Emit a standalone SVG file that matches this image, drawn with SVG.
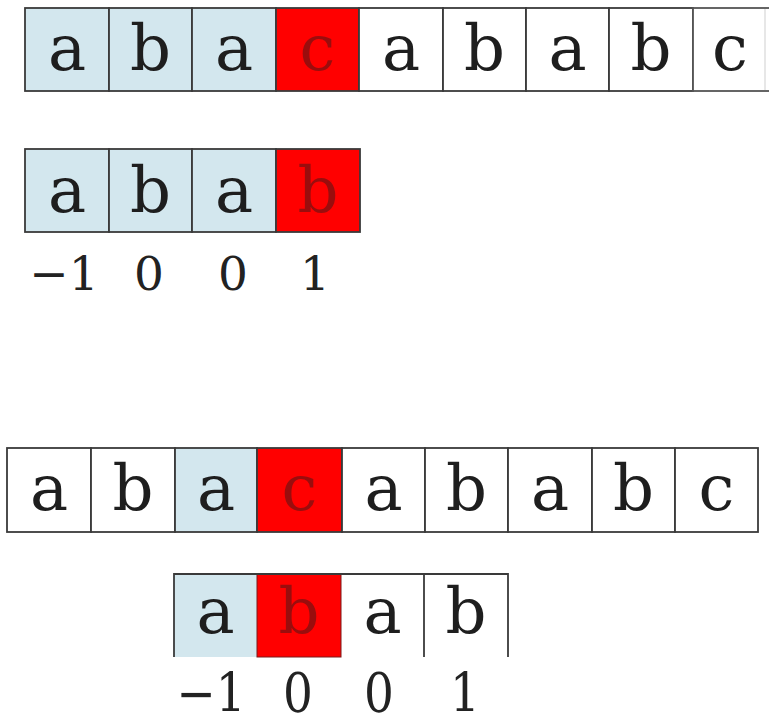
<svg xmlns="http://www.w3.org/2000/svg" width="769" height="718" viewBox="0 0 769 718">
<style>
.cell{stroke:#3a3a3a;stroke-width:1.8}
.w{fill:#ffffff}
.b{fill:#d3e7ee}
.r{fill:#ff0000}
.ch{font-family:"DejaVu Serif","Liberation Serif",serif;font-size:64px;fill:#1e1e1e;text-anchor:middle}
.ch.rt{fill:#9a0d0d}
.num{font-family:"DejaVu Serif","Liberation Serif",serif;font-size:47px;fill:#222;text-anchor:middle}
.ln{stroke:#3a3a3a;stroke-width:1.8;fill:none}
</style>
<rect width="769" height="718" fill="#ffffff"/>
<g id="text-row">
  <g id="t0"><rect class="cell b" x="25" y="8" width="84" height="83"/><text class="ch" x="67" y="70">a</text></g>
  <g id="t1"><rect class="cell b" x="109" y="8" width="83" height="83"/><text class="ch" x="150.5" y="70">b</text></g>
  <g id="t2"><rect class="cell b" x="192" y="8" width="84" height="83"/><text class="ch" x="234" y="70">a</text></g>
  <g id="t3"><rect class="cell r" x="276" y="8" width="83" height="83"/><text class="ch rt" x="317.5" y="70">c</text></g>
  <g id="t4"><rect class="cell w" x="359" y="8" width="84" height="83"/><text class="ch" x="401" y="70">a</text></g>
  <g id="t5"><rect class="cell w" x="443" y="8" width="83" height="83"/><text class="ch" x="484.5" y="70">b</text></g>
  <g id="t6"><rect class="cell w" x="526" y="8" width="83" height="83"/><text class="ch" x="567.5" y="70">a</text></g>
  <g id="t7"><rect class="cell w" x="609" y="8" width="84" height="83"/><text class="ch" x="651" y="70">b</text></g>
  <g id="t8"><rect class="cell w" x="693" y="8" width="90" height="83" style="stroke:#555"/><line x1="765" y1="9" x2="765" y2="90" stroke="#cfcfcf" stroke-width="1"/><text class="ch" x="730" y="70">c</text></g>
</g>
<g id="pattern-row">
  <g id="p0"><rect class="cell b" x="25" y="149" width="84" height="83"/><text class="ch" x="67" y="212">a</text></g>
  <g id="p1"><rect class="cell b" x="109" y="149" width="83" height="83"/><text class="ch" x="150.5" y="212">b</text></g>
  <g id="p2"><rect class="cell b" x="192" y="149" width="84" height="83"/><text class="ch" x="234" y="212">a</text></g>
  <g id="p3"><rect class="cell r" x="276" y="149" width="84" height="83"/><text class="ch rt" x="318" y="212">b</text></g>
  <g id="next1">
    <text class="num" x="64" y="290">−1</text>
    <text class="num" x="149" y="290">0</text>
    <text class="num" x="233" y="290">0</text>
    <text class="num" x="315" y="290">1</text>
  </g>
</g>
<g id="text-row-2">
  <g id="s0"><rect class="cell w" x="7" y="448" width="84" height="84"/><text class="ch" x="49" y="510">a</text></g>
  <g id="s1"><rect class="cell w" x="91" y="448" width="84" height="84"/><text class="ch" x="133" y="510">b</text></g>
  <g id="s2"><rect class="cell b" x="175" y="448" width="82" height="84"/><text class="ch" x="216" y="510">a</text></g>
  <g id="s3"><rect class="cell r" x="257" y="448" width="85" height="84"/><text class="ch rt" x="299.5" y="510">c</text></g>
  <g id="s4"><rect class="cell w" x="342" y="448" width="83" height="84"/><text class="ch" x="383.5" y="510">a</text></g>
  <g id="s5"><rect class="cell w" x="425" y="448" width="83" height="84"/><text class="ch" x="466.5" y="510">b</text></g>
  <g id="s6"><rect class="cell w" x="508" y="448" width="84" height="84"/><text class="ch" x="550" y="510">a</text></g>
  <g id="s7"><rect class="cell w" x="592" y="448" width="83" height="84"/><text class="ch" x="633.5" y="510">b</text></g>
  <g id="s8"><rect class="cell w" x="675" y="448" width="83" height="84"/><text class="ch" x="716.5" y="510">c</text></g>
</g>
<g id="pattern-row-2">
  <g id="q0"><rect class="b" x="174" y="574" width="83" height="83"/><text class="ch" x="215.5" y="633">a</text></g>
  <g id="q1"><rect class="r" x="257" y="574" width="84" height="83" stroke="#7a1a1a" stroke-width="1"/><text class="ch rt" x="299" y="633">b</text></g>
  <g id="q2"><text class="ch" x="382.5" y="633">a</text></g>
  <g id="q3"><text class="ch" x="466" y="633">b</text></g>
  <path class="ln" d="M174 657 V574 H508 V657 M424 574 V657"/>
  <g id="next2">
    <text class="num" transform="translate(211 712) scale(1 1.15)">−1</text>
    <text class="num" transform="translate(298 712) scale(1 1.15)">0</text>
    <text class="num" transform="translate(379 712) scale(1 1.15)">0</text>
    <text class="num" transform="translate(465 712) scale(1 1.15)">1</text>
  </g>
</g>
</svg>
